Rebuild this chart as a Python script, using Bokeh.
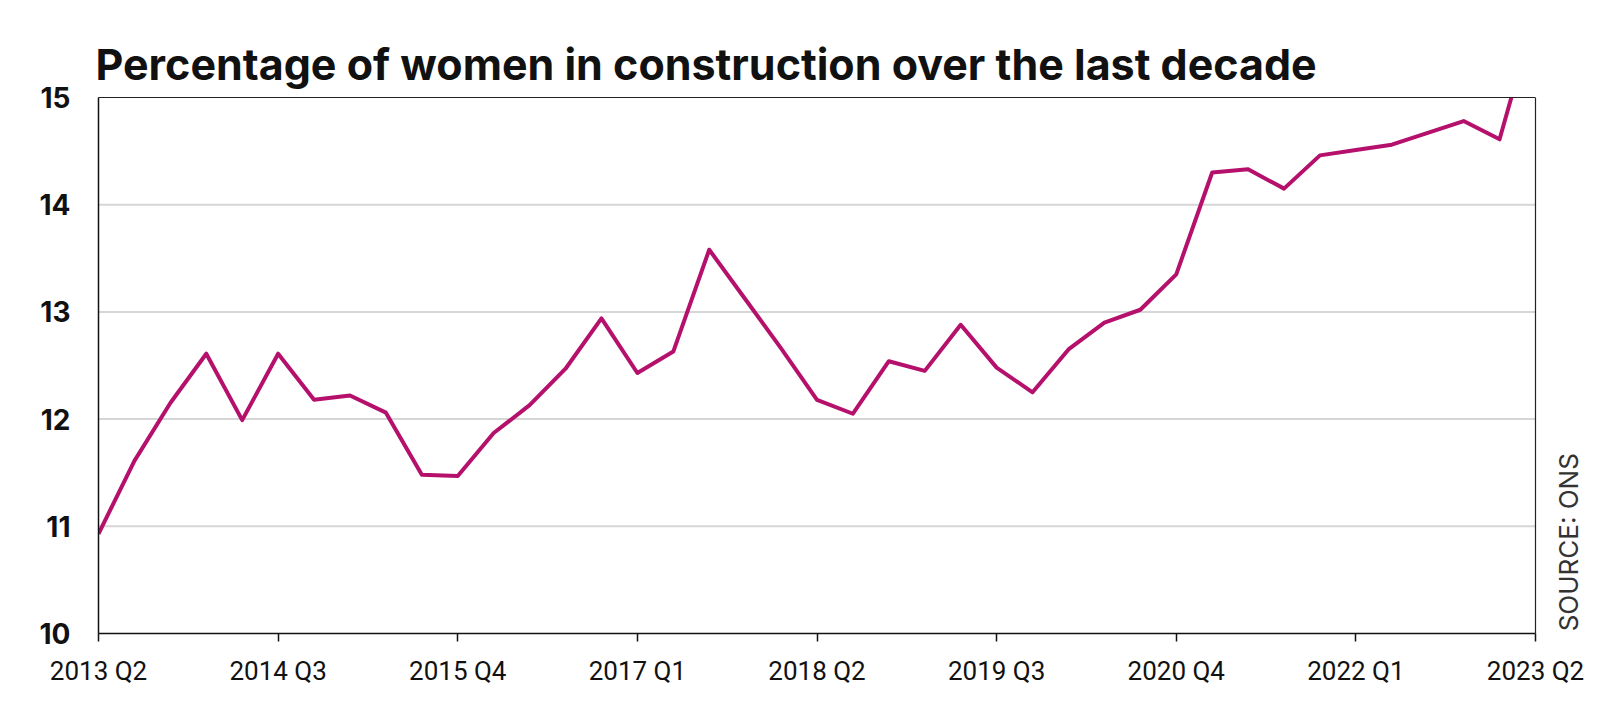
import math
from bokeh.plotting import figure
from bokeh.models import Range1d, FixedTicker, Span, LinearAxis
from bokeh.core.properties import value
from bokeh.embed import file_html
from bokeh.resources import INLINE

quarters = [
    "2013 Q2", "2013 Q3", "2013 Q4", "2014 Q1", "2014 Q2", "2014 Q3", "2014 Q4",
    "2015 Q1", "2015 Q2", "2015 Q3", "2015 Q4", "2016 Q1", "2016 Q2", "2016 Q3",
    "2016 Q4", "2017 Q1", "2017 Q2", "2017 Q3", "2017 Q4", "2018 Q1", "2018 Q2",
    "2018 Q3", "2018 Q4", "2019 Q1", "2019 Q2", "2019 Q3", "2019 Q4", "2020 Q1",
    "2020 Q2", "2020 Q3", "2020 Q4", "2021 Q1", "2021 Q2", "2021 Q3", "2021 Q4",
    "2022 Q1", "2022 Q2", "2022 Q3", "2022 Q4", "2023 Q1", "2023 Q2",
]
women_pct = [
    10.93, 11.61, 12.15, 12.61, 11.99, 12.61, 12.18, 12.22, 12.06, 11.48,
    11.47, 11.87, 12.13, 12.47, 12.94, 12.43, 12.63, 13.58, 13.12, 12.66,
    12.18, 12.05, 12.54, 12.45, 12.88, 12.48, 12.25, 12.65, 12.90, 13.02,
    13.35, 14.30, 14.33, 14.15, 14.46, 14.51, 14.56, 14.67, 14.78, 14.61,
    15.80,
]
tick_every = 5
y_ticks = [10, 11, 12, 13, 14, 15]
grid_vals = [11, 12, 13, 14]
title_text = "Percentage of women in construction over the last decade"
source_text = "SOURCE: ONS"

# layout (pixels)
FIG_W, FIG_H = 1600, 705
LEFT, TOP, BOTTOM_Y = 98, 97, 633
LAST_PX = 1535        # pixel position of the last quarter (right border)
FRAME_RIGHT = 1592
SOURCE_PX = 1568

n = len(quarters)
last = n - 1
px_per_q = (LAST_PX - LEFT) / last
x_end = (FRAME_RIGHT - LEFT) / px_per_q
x_idx = list(range(n))
x_ticks = x_idx[::tick_every]

INK = "#111111"

p = figure(
    width=FIG_W, height=FIG_H,
    x_range=Range1d(0, x_end),
    y_range=Range1d(10, 15),
    output_backend="svg", toolbar_location=None,
    min_border_left=LEFT, min_border_right=FIG_W - FRAME_RIGHT,
    min_border_top=TOP, min_border_bottom=FIG_H - BOTTOM_Y,
)
p.title.text = title_text
p.title.text_font = "Inter"
p.title.text_font_size = "43px"
p.title.text_font_style = "bold"
p.title.text_color = INK
p.title.offset = -3
p.title.standoff = 16

p.outline_line_color = None
p.background_fill_color = "white"
p.border_fill_color = "white"
p.xgrid.visible = False
p.ygrid.visible = False

# bottom axis
p.xaxis.bounds = (0, last)
p.xaxis.ticker = FixedTicker(ticks=x_ticks)
p.xaxis.major_label_overrides = {i: quarters[i] for i in x_ticks}
p.xaxis.major_label_text_font = "Roboto"
p.xaxis.major_label_text_font_size = "26px"
p.xaxis.major_label_text_color = INK
p.xaxis.axis_line_color = INK
p.xaxis.axis_line_width = 1.5
p.xaxis.major_tick_line_color = INK
p.xaxis.major_tick_line_width = 1.5
p.xaxis.major_tick_out = 8
p.xaxis.major_tick_in = 0
p.xaxis.minor_tick_line_color = None
p.xaxis.major_label_standoff = 14

# left axis
p.yaxis.ticker = FixedTicker(ticks=y_ticks)
p.yaxis.major_label_text_font = "Inter"
p.yaxis.major_label_text_font_size = "28px"
p.yaxis.major_label_text_font_style = "bold"
p.yaxis.major_label_text_color = INK
p.yaxis.axis_line_color = INK
p.yaxis.axis_line_width = 1.5
p.yaxis.major_tick_line_color = None
p.yaxis.minor_tick_line_color = None
p.yaxis.major_label_standoff = 22

# top border as a bare axis line
top_axis = LinearAxis(ticker=FixedTicker(ticks=[]), bounds=(0, last),
                      major_label_text_font_size="0px",
                      major_tick_line_color=None, minor_tick_line_color=None,
                      axis_line_color="#222222", axis_line_width=1.2)
p.add_layout(top_axis, "above")

# right border
p.add_layout(Span(location=last, dimension="height",
                  line_color="#222222", line_width=1.2))

# horizontal grid lines, stopping at the right border
p.segment(x0=[0] * len(grid_vals), x1=[last] * len(grid_vals),
          y0=grid_vals, y1=grid_vals, line_color="#d6d6d6", line_width=2)

p.line(x_idx, women_pct, line_color="#b5106b", line_width=4, line_join="round")

src_x = last + (SOURCE_PX - LAST_PX) / px_per_q
p.text(x=[src_x], y=[10.02], text=[source_text], angle=math.pi / 2,
       text_font=value("Inter"), text_font_size="26px", text_color="#333333",
       text_align="left", text_baseline="middle")

open("out.html", "w").write(file_html(p, INLINE))
